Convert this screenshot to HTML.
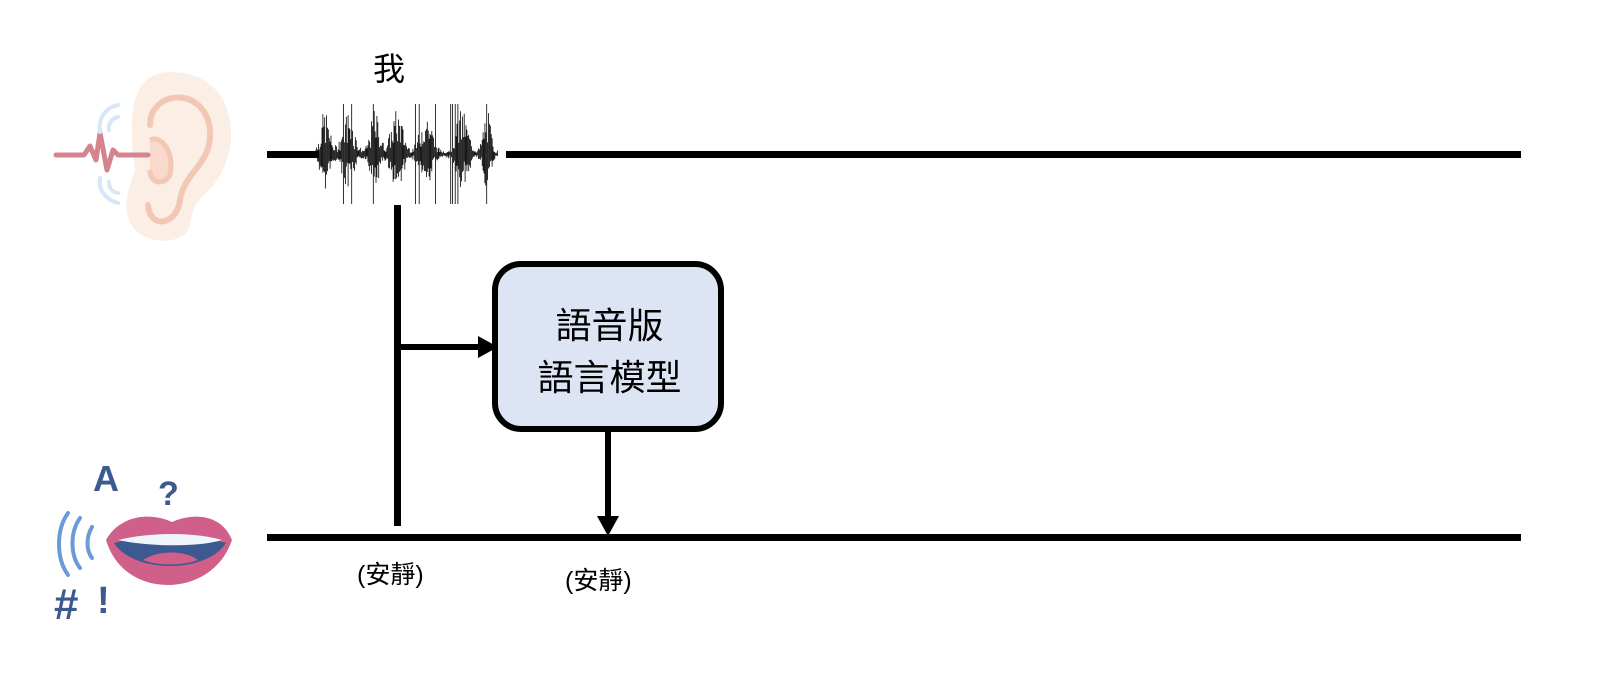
<!DOCTYPE html>
<html><head><meta charset="utf-8"><style>
body{margin:0;width:1602px;height:678px;background:#fff;overflow:hidden;position:relative;font-family:"Liberation Sans","Noto Sans CJK TC",sans-serif}
.t{position:absolute;color:#000;white-space:nowrap}
</style></head><body>
<svg width="1602" height="678" style="position:absolute;left:0;top:0">
<!-- ear icon -->
<g>
<path d="M170 72 C230 72 240 130 225 165 C210 200 195 190 190 225 C185 245 150 245 135 230 C120 210 128 190 135 170 C130 130 125 72 170 72Z" fill="#fbeee4"/>
<path d="M150 125 C150 90 205 85 210 130 C212 165 185 170 180 200 C177 225 150 230 148 205" fill="none" stroke="#f3c7b5" stroke-width="6" stroke-linecap="round"/>
<path d="M150 140 C160 135 175 150 170 175 C165 185 150 185 150 170" fill="#f8d9cb" stroke="#f3c7b5" stroke-width="5"/>
<path d="M56 155 H84 L90 146 L96 160 L100 133 L107 170 L113 150 L118 155 H148" fill="none" stroke="#d4848f" stroke-width="5" stroke-linecap="round" stroke-linejoin="round"/>
<path d="M118 105 C104 108 98 120 100 132 M118 117 C110 119 108 126 109 130" fill="none" stroke="#d8e6f7" stroke-width="4" stroke-linecap="round"/>
<path d="M100 178 C98 190 106 200 118 203 M109 182 C109 188 112 192 118 193" fill="none" stroke="#d8e6f7" stroke-width="4" stroke-linecap="round"/>
</g>
<!-- mouth icon -->
<g>
<path d="M106 540 C120 515 150 512 172 522 C195 512 222 515 232 540 C222 570 195 585 168 585 C140 585 115 570 106 540Z" fill="#d0608a"/>
<path d="M114 543 C150 532 192 532 226 543 C215 560 190 566 170 566 C150 566 125 560 114 543Z" fill="#3c5a90"/>
<path d="M118 540 C150 532 195 532 222 540 C200 547 150 547 118 540Z" fill="#eef5fb"/>
<path d="M143 560 C158 550 185 550 198 560 C182 566 158 566 143 560Z" fill="#d0608a"/>
<text x="93" y="491" font-size="36" fill="#3c5a90" font-family="Liberation Sans,sans-serif" font-weight="bold">A</text>
<text x="158" y="505" font-size="34" fill="#3c5a90" font-family="Liberation Sans,sans-serif" font-weight="bold">?</text>
<text x="54" y="619" font-size="44" fill="#3c5a90" font-family="Liberation Sans,sans-serif" font-weight="bold">#</text>
<text x="97" y="613" font-size="38" fill="#3c5a90" font-family="Liberation Sans,sans-serif" font-weight="bold">!</text>
<path d="M68 513 C56 530 56 558 68 575 M80 518 C70 532 70 555 80 568 M92 527 C86 537 86 550 92 558" fill="none" stroke="#6b9bd6" stroke-width="4" stroke-linecap="round"/>
</g>
<!-- lines -->
<rect x="267" y="151" width="52" height="7" fill="#000"/>
<rect x="506" y="151" width="1015" height="7" fill="#000"/>
<rect x="267" y="534" width="1254" height="7" fill="#000"/>
<g id="wave" stroke="#000" stroke-width="0.8"></g>
<rect x="394" y="205" width="7" height="321" fill="#000"/>
<rect x="394" y="344" width="86" height="6" fill="#000"/>
<polygon points="478,336 498,347 478,358" fill="#000"/>
<rect x="495" y="264" width="226" height="165" rx="26" fill="#dde4f3" stroke="#000" stroke-width="6"/>
<rect x="605" y="430" width="6" height="90" fill="#000"/>
<polygon points="597,516 619,516 608,536" fill="#000"/>
</svg>
<div class="t" style="left:373px;top:44px;font-size:32px">我</div>
<div class="t" style="left:495px;top:300px;width:229px;text-align:center;font-size:36px;line-height:52px">語音版<br>語言模型</div>
<div class="t" style="left:357px;top:555px;font-size:25px">(安靜)</div>
<div class="t" style="left:565px;top:561px;font-size:25px">(安靜)</div>
<script>
var g=document.getElementById('wave'),s='';var seed=7;
function r(){seed=(seed*9301+49297)%233280;return seed/233280;}
var bursts=[[325,6],[348,8],[375,6],[397,8],[426,8],[462,8],[487,5]];
for(var x=313;x<=498;x+=0.9){var a=3;for(var i=0;i<bursts.length;i++){var d=(x-bursts[i][0])/bursts[i][1];a+=38*Math.exp(-d*d);}
var up=a*(0.2+r()*0.9),dn=a*(0.2+r()*0.7);if(r()<0.03){up=50;dn=50;}
up=Math.min(up,56);dn=Math.min(dn,55);
s+='<line x1="'+x.toFixed(1)+'" y1="'+(154-up).toFixed(1)+'" x2="'+x.toFixed(1)+'" y2="'+(154+dn).toFixed(1)+'"/>';}
g.innerHTML=s;
</script>
</body></html>
